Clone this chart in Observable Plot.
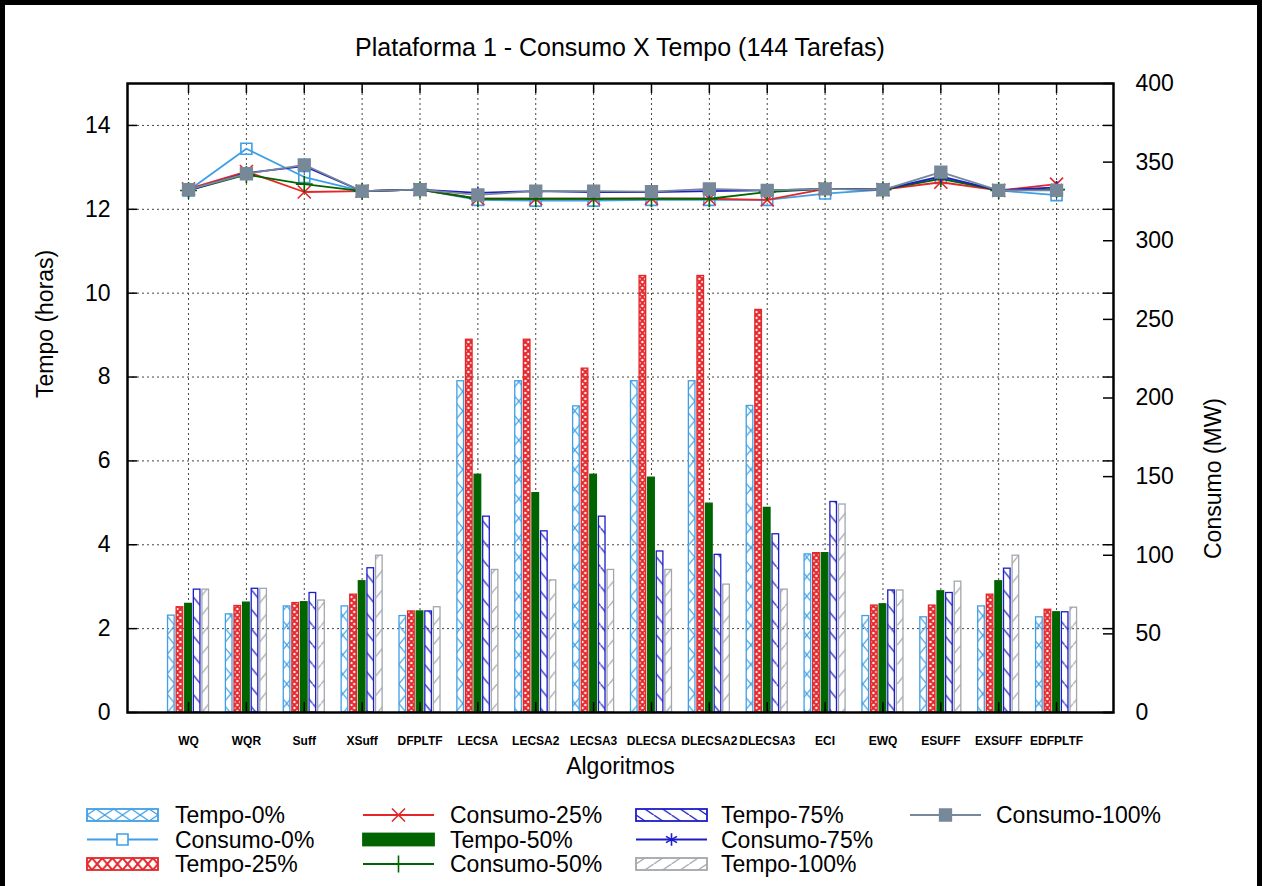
<!DOCTYPE html>
<html>
<head>
<meta charset="utf-8">
<script src="https://cdn.jsdelivr.net/npm/d3@7"></script>
<script src="https://cdn.jsdelivr.net/npm/@observablehq/plot@0.6"></script>
<style>
  html, body { margin:0; padding:0; background:#fff; }
  #wrap { position:relative; width:1262px; height:886px; overflow:hidden; background:#fff; font-family:"Liberation Sans", Arial, Helvetica, sans-serif; }
  #frame { position:absolute; left:0; top:0; width:1262px; height:900px; box-sizing:border-box; border:5px solid #000; pointer-events:none; }
  #title { position:absolute; left:0; top:33px; width:1240px; text-align:center; font-size:25px; line-height:28px; color:#000; }
  #chart { position:absolute; left:0; top:60px; }
  #legend { position:absolute; left:0; top:790px; font-family:"Liberation Sans", Arial, Helvetica, sans-serif; }
</style>
</head>
<body>
<div id="wrap">
  <div id="title">Plataforma 1 - Consumo X Tempo (144 Tarefas)</div>
  <div id="chart"></div>
  <svg id="legend" width="1262" height="96"></svg>
  <div id="frame"></div>
</div>
<script>
// ---------------- data ----------------
const categories = ["WQ","WQR","Suff","XSuff","DFPLTF","LECSA","LECSA2","LECSA3","DLECSA","DLECSA2","DLECSA3","ECI","EWQ","ESUFF","EXSUFF","EDFPLTF"];

// Tempo (horas), left axis
const tempo0   = [2.31,2.34,2.53,2.53,2.30,7.90,7.90,7.30,7.90,7.90,7.31,3.77,2.30,2.27,2.53,2.27];
const tempo25  = [2.51,2.54,2.61,2.81,2.41,8.89,8.89,8.20,10.41,10.41,9.60,3.80,2.55,2.55,2.81,2.45];
const tempo50  = [2.59,2.62,2.63,3.13,2.41,5.67,5.23,5.67,5.60,4.98,4.88,3.80,2.58,2.89,3.13,2.39];
const tempo75  = [2.93,2.95,2.85,3.44,2.41,4.67,4.32,4.67,3.84,3.76,4.25,5.02,2.91,2.85,3.43,2.39];
const tempo100 = [2.93,2.95,2.67,3.74,2.51,3.40,3.15,3.40,3.40,3.05,2.93,4.96,2.91,3.12,3.74,2.50];

// Consumo (MW), right axis
const consumo0   = [332.0,358.5,340.5,331.5,332.5,326.0,325.5,325.5,326.0,326.0,326.0,330.0,332.5,340.0,332.0,329.0];
const consumo25  = [333.0,344.0,331.0,331.5,332.5,326.7,326.7,326.7,327.0,326.7,326.0,333.0,332.5,337.2,332.0,336.0];
const consumo50  = [332.0,342.0,336.0,331.5,332.5,326.7,326.7,326.7,326.7,326.7,331.0,333.0,332.5,339.4,332.0,332.5];
const consumo75  = [332.0,343.0,347.5,331.5,332.5,330.5,331.5,331.0,331.0,331.5,332.0,333.0,332.5,341.0,332.0,334.0];
const consumo100 = [332.5,342.6,348.3,331.5,332.5,329.2,331.5,331.5,331.3,333.0,332.0,333.0,332.4,343.6,332.0,332.0];

const leftTicks  = [0,2,4,6,8,10,12,14];
const rightTicks = [0,50,100,150,200,250,300,350,400];

const yLabel = "Tempo (horas)";
const y2Label = "Consumo (MW)";
const xLabel = "Algoritmos";

// ---------------- styles ----------------
const C0 = "#3f9fe6", C25 = "#e4262a", C50 = "#006400", C75 = "#1c1cc8", C100bar = "#a2a7ad", C100 = "#778899";

const tempoSeries = [
  {name:"Tempo-0%",   values:tempo0,   color:C0,      pat:"t0"},
  {name:"Tempo-25%",  values:tempo25,  color:C25,     pat:"t25"},
  {name:"Tempo-50%",  values:tempo50,  color:C50,     pat:null},
  {name:"Tempo-75%",  values:tempo75,  color:C75,     pat:"t75"},
  {name:"Tempo-100%", values:tempo100, color:C100bar, pat:"t100"}
];
const consumoSeries = [
  {name:"Consumo-0%",   values:consumo0,   color:C0,   symbol:"square",   fill:"none", r:6.2},
  {name:"Consumo-25%",  values:consumo25,  color:C25,  symbol:"times",    fill:"none", r:6},
  {name:"Consumo-50%",  values:consumo50,  color:C50,  symbol:"plus",     fill:"none", r:5.5},
  {name:"Consumo-75%",  values:consumo75,  color:C75,  symbol:"asterisk", fill:"none", r:6},
  {name:"Consumo-100%", values:consumo100, color:C100, symbol:"square",   fill:C100,   r:6.6}
];

const Y2MAX = 400, YMAX = 15;
const toT = v => v * YMAX / Y2MAX;

// ---------------- layout ----------------
const W = 1262;
const mL = 127, mR = W - 1113, mT = 23, plotH = 629, mB = 90;
const H = mT + plotH + mB;
const plotW = W - mL - mR;
const xr0 = 159.1, xr1 = 1085.0;
const band = (xr1 - xr0) / categories.length;
const barStep = 8.6, barW = 6.6;
const inset = (band - barW) / 2;
const tickLen = 10;

function addPatterns(defs, prefix, w, h, wr, hr) {
  const p = (id, pw, ph) => defs.append("pattern").attr("id", prefix + id)
    .attr("patternUnits", "userSpaceOnUse").attr("width", pw).attr("height", ph);
  p("t0", w, h).append("path").attr("d", `M0,0L${w},${h}M0,${h}L${w},0`)
    .attr("stroke", C0).attr("stroke-width", 1.2).attr("fill", "none");
  p("t25", wr, hr).append("path").attr("d", `M0,0L${wr},${hr}M0,${hr}L${wr},0`)
    .attr("stroke", C25).attr("stroke-width", 2).attr("fill", "none");
  p("t75", w, h).append("path").attr("d", `M0,0L${w},${h}`)
    .attr("stroke", C75).attr("stroke-width", 1.3).attr("fill", "none");
  p("t100", w, h).append("path").attr("d", `M0,${h}L${w},0`)
    .attr("stroke", C100bar).attr("stroke-width", 1.3).attr("fill", "none");
}

const gridStyle = {stroke:"#444", strokeOpacity:1, strokeDasharray:"2,3", strokeWidth:1};

const marks = [
  Plot.gridY(leftTicks.filter(t => t > 0), gridStyle),
  Plot.gridX(categories, gridStyle),
  ...tempoSeries.map((s, k) => Plot.barY(
    categories.map((c, i) => ({c, v: s.values[i]})),
    {x:"c", y:"v", fill: s.pat ? `url(#b-${s.pat})` : s.color, stroke:s.color, strokeWidth:1.3,
     dx:(k - 2) * barStep, insetLeft:inset, insetRight:inset}
  )),
  ...consumoSeries.flatMap(s => {
    const d = categories.map((c, i) => ({c, v: toT(s.values[i])}));
    return [
      Plot.line(d, {x:"c", y:"v", stroke:s.color, strokeWidth:1.8}),
      Plot.dot(d, {x:"c", y:"v", symbol:s.symbol, stroke:s.color, fill:s.fill, r:s.r, strokeWidth:1.6})
    ];
  }),
  // inward ticks (gnuplot style)
  Plot.tickY(leftTicks, {y:d => d, stroke:"#000", strokeWidth:1.5, insetRight: plotW - tickLen}),
  Plot.tickY(leftTicks, {y:d => d, stroke:"#000", strokeWidth:1.5, insetLeft: plotW - tickLen}),
  Plot.tickY(rightTicks.map(toT), {y:d => d, stroke:"#000", strokeWidth:1.5, insetLeft: plotW - tickLen}),
  Plot.tickX(categories, {x:d => d, stroke:"#000", strokeWidth:1.5, insetBottom: plotH - tickLen}),
  Plot.tickX(categories, {x:d => d, stroke:"#000", strokeWidth:1.5, insetTop: plotH - tickLen}),
  // axes labels
  Plot.axisY(leftTicks, {anchor:"left", tickSize:0, tickPadding:17, label:null, fontSize:23}),
  Plot.axisY(rightTicks.map(toT), {anchor:"right", tickSize:0, tickPadding:22, label:null, fontSize:23,
    tickFormat: d => String(Math.round(d * Y2MAX / YMAX))}),
  Plot.axisX({anchor:"bottom", tickSize:0, tickPadding:24, label:null, fontSize:12, fontWeight:"bold"}),
  Plot.text([yLabel], {frameAnchor:"left", dx:-82, rotate:-90, fontSize:23, text:d => d}),
  Plot.text([y2Label], {frameAnchor:"right", dx:100, rotate:-90, fontSize:23, text:d => d}),
  Plot.text([xLabel], {frameAnchor:"bottom", dy:61, fontSize:23, text:d => d}),
  Plot.frame({stroke:"#000", strokeWidth:2.5})
];

const chart = Plot.plot({
  width: W, height: H,
  marginLeft: mL, marginRight: mR, marginTop: mT, marginBottom: mB,
  style: {fontFamily:'"Liberation Sans", Arial, Helvetica, sans-serif', fontSize:"23px", background:"transparent", overflow:"visible", color:"#000"},
  x: {type:"band", domain:categories, range:[xr0, xr1], padding:0, round:false, axis:null},
  y: {domain:[0, YMAX], axis:null},
  marks
});
const defsPlot = d3.select(chart).insert("defs", ":first-child");
addPatterns(defsPlot, "b-", 16, 19.5, 6, 6);
document.getElementById("chart").appendChild(chart);

// ---------------- legend ----------------
const leg = d3.select("#legend");
addPatterns(leg.append("defs"), "l-", 17.75, 12, 10.15, 12);
const legendItems = [];
for (let k = 0; k < 5; k++) {
  legendItems.push({type:"bar", ...tempoSeries[k]});
  legendItems.push({type:"line", ...consumoSeries[k]});
}
const colX = [87, 363, 636, 910];
const textX = [175, 450, 721, 996];
const rowY = [25, 49.5, 74];
const swW = 71, swH = 12;
const symMap = {square:d3.symbolSquare, times:d3.symbolTimes, plus:d3.symbolPlus, asterisk:d3.symbolAsterisk};
legendItems.forEach((it, idx) => {
  const col = Math.floor(idx / 3), row = idx % 3;
  const g = leg.append("g").attr("transform", `translate(${colX[col]},${rowY[row]})`);
  if (it.type === "bar") {
    g.append("rect").attr("x", 0).attr("y", -swH / 2).attr("width", swW).attr("height", swH)
      .attr("fill", it.pat ? `url(#l-${it.pat})` : it.color)
      .attr("stroke", it.color).attr("stroke-width", 1.8);
  } else {
    g.append("line").attr("x1", 0).attr("x2", swW).attr("y1", 0).attr("y2", 0)
      .attr("stroke", it.color).attr("stroke-width", 1.8);
    g.append("path").attr("transform", `translate(${swW / 2},0)`)
      .attr("d", d3.symbol(symMap[it.symbol], Math.PI * it.r * it.r)())
      .attr("fill", it.fill === "none" ? (it.symbol === "square" ? "#fff" : "none") : it.fill)
      .attr("stroke", it.color).attr("stroke-width", 1.6);
  }
  g.append("text").attr("x", textX[col] - colX[col]).attr("y", 0)
    .attr("dominant-baseline", "central").attr("font-size", 23).attr("fill", "#000")
    .text(it.name);
});
</script>
</body>
</html>
